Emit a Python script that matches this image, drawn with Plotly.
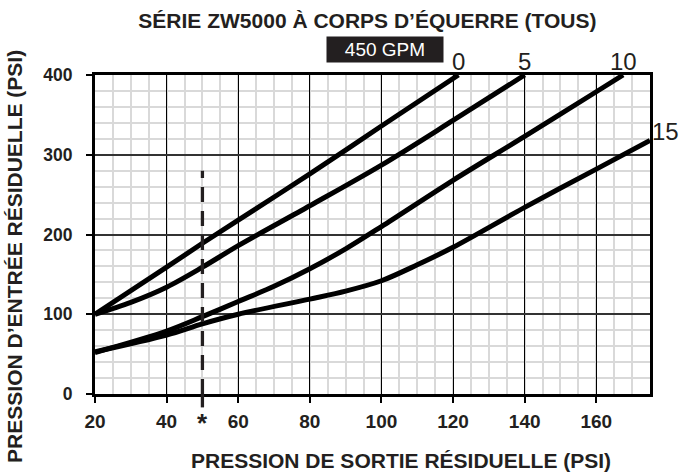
import plotly.graph_objects as go

# ---- data ----
series_names = ["0", "5", "10", "15"]
x_0 = [20, 40, 50, 60, 80, 100, 121.5]
y_0 = [100, 159, 189, 218, 276, 336, 400]
x_5 = [20, 30, 40, 50, 60, 80, 100, 120, 140]
y_5 = [100, 115, 134, 159, 186, 236, 287, 343, 400]
x_10 = [20, 40, 50, 60, 70, 80, 90, 100, 120, 140, 160, 167.5]
y_10 = [52, 79, 97, 116, 135, 157, 182, 210, 268, 323, 379, 400]
x_15 = [20, 40, 50, 60, 80, 90, 100, 110, 120, 140, 160, 175]
y_15 = [53, 74, 88, 100, 119, 129, 142, 162, 184, 234, 282, 318]
star_x = [50, 50]
star_y = [0, 280]
x_ticks = [20, 40, 60, 80, 100, 120, 140, 160]
y_ticks = [0, 100, 200, 300, 400]

FONT = "Liberation Sans, Arial, Helvetica, sans-serif"
INK = "#231f20"

fig = go.Figure()
for name, xs, ys in zip(series_names, [x_0, x_5, x_10, x_15], [y_0, y_5, y_10, y_15]):
    fig.add_trace(go.Scatter(x=xs, y=ys, mode="lines", name=name,
                             line=dict(color="black", width=5, shape="spline", smoothing=0.9),
                             showlegend=False, hoverinfo="skip"))

fig.add_trace(go.Scatter(x=star_x, y=star_y, mode="lines",
                         line=dict(color=INK, width=3.3, dash="15px,9px"),
                         showlegend=False, hoverinfo="skip"))

# short continuation of the dashed line below the axis
fig.add_shape(type="line", xref="x", yref="paper", x0=star_x[0], x1=star_x[0],
              y0=-0.042, y1=0, line=dict(color=INK, width=3.3))

# curve labels
for name, xs, ys in zip(series_names, [x_0, x_5, x_10, x_15], [y_0, y_5, y_10, y_15]):
    if ys[-1] >= 400:
        fig.add_annotation(x=xs[-1], y=ys[-1], text=name, showarrow=False,
                           xanchor="center", yanchor="bottom", yshift=-2,
                           font=dict(family=FONT, size=24, color=INK))
    else:
        fig.add_annotation(x=xs[-1], y=ys[-1], text=name, showarrow=False,
                           xanchor="left", yanchor="bottom", yshift=-7, xshift=0,
                           font=dict(family=FONT, size=24, color=INK))

fig.add_annotation(x=star_x[0], y=0, xref="x", yref="paper", text="<b>*</b>", showarrow=False,
                   xanchor="center", yanchor="top", yshift=-12,
                   font=dict(family=FONT, size=26, color=INK))

fig.add_annotation(x=0.5225, y=1.08, xref="paper", yref="paper", text="450 GPM",
                   showarrow=False, bgcolor=INK, borderpad=2, width=112, height=21,
                   xanchor="center", yanchor="middle",
                   font=dict(family=FONT, size=19, color="white"))

# axis titles
fig.add_annotation(x=0.551, y=-0.209, xref="paper", yref="paper",
                   text="<b>PRESSION DE SORTIE RÉSIDUELLE (PSI)</b>", showarrow=False,
                   xanchor="center", yanchor="middle",
                   font=dict(family=FONT, size=21, color=INK))
fig.add_annotation(x=-0.1465, y=0.432, xref="paper", yref="paper",
                   text="<b>PRESSION D’ENTRÉE RÉSIDUELLE (PSI)</b>", showarrow=False,
                   xanchor="center", yanchor="middle", textangle=-90,
                   font=dict(family=FONT, size=21, color=INK))

fig.update_layout(
    width=683, height=472,
    margin=dict(l=95, r=33, t=75, b=78, autoexpand=False),
    plot_bgcolor="white", paper_bgcolor="white",
    title=dict(text="<b>SÉRIE ZW5000 À CORPS D’ÉQUERRE (TOUS)</b>", x=0.538, xanchor="center",
               y=0.956, yanchor="middle", font=dict(family=FONT, size=21, color=INK)),
    font=dict(family=FONT, color="black"),
)

fig.update_xaxes(
    range=[20, 175], tickvals=x_ticks, ticktext=[f"<b>{v}</b>" for v in x_ticks],
    tickfont=dict(family=FONT, size=19, color=INK),
    showgrid=True, gridcolor="black", gridwidth=1.2,
    minor=dict(dtick=5, tick0=20, showgrid=True, gridcolor="#d9d9d9", gridwidth=1.6),
    showline=True, linecolor="black", linewidth=3, mirror=True,
    ticks="outside", ticklen=6, tickwidth=1.5, tickcolor="black",
    ticklabelstandoff=2, zeroline=False, automargin=False,
)
fig.update_yaxes(
    range=[0, 400], tickvals=y_ticks, ticktext=[f"<b>{v}</b>" for v in y_ticks],
    tickfont=dict(family=FONT, size=17.5, color=INK),
    showgrid=True, gridcolor="#333", gridwidth=1.5,
    minor=dict(dtick=20, tick0=0, showgrid=True, gridcolor="#d9d9d9", gridwidth=1.6),
    showline=True, linecolor="black", linewidth=3, mirror=True,
    ticks="outside", ticklen=6, tickwidth=1.5, tickcolor="black",
    ticklabelstandoff=10, zeroline=False, automargin=False,
)

fig.write_html("out.html", config={"displayModeBar": False},
               post_script="document.body.style.margin='0';")
